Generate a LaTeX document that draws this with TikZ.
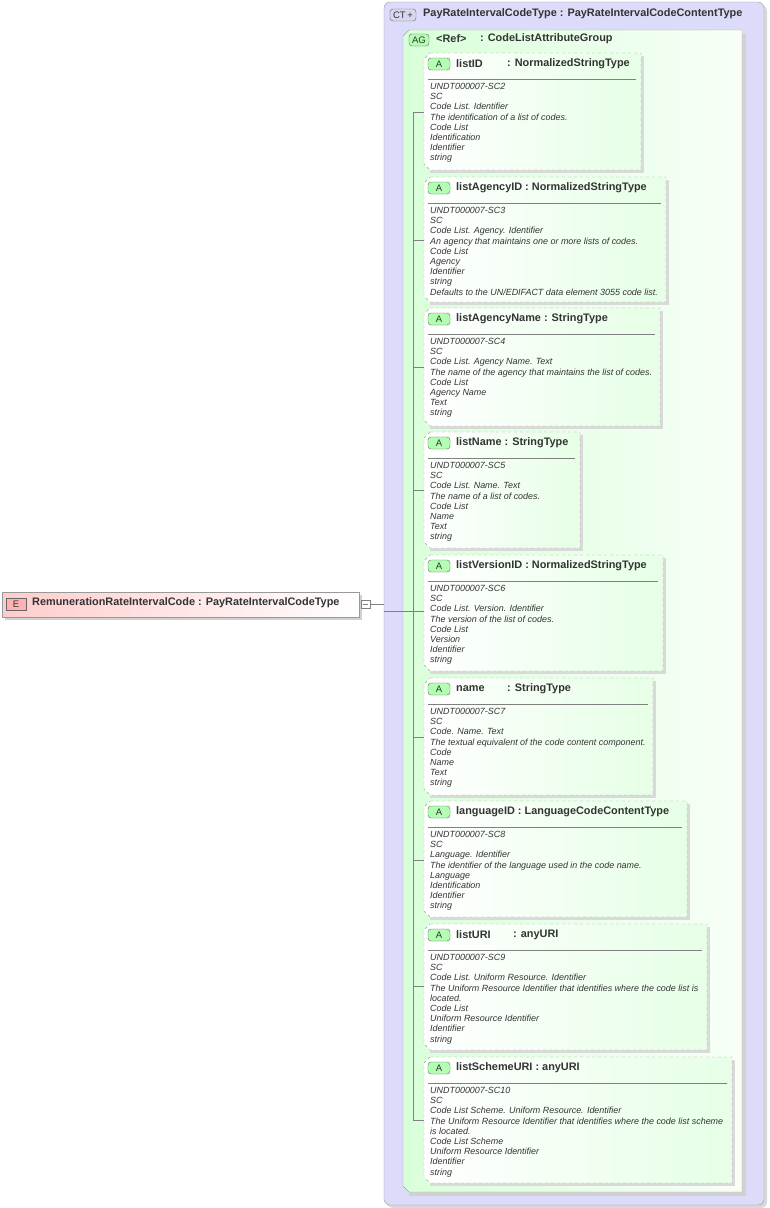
\documentclass[tikz,border=0pt]{standalone}
\usepackage{fontspec}
\setmainfont{Liberation Sans}
\begin{document}
\begin{tikzpicture}[x=1pt,y=-1pt,
  hdr/.style={font=\fontsize{10.9}{12}\selectfont\bfseries,text=black!80,inner sep=0,anchor=west},
  body/.style={font=\fontsize{8.95}{10.2}\selectfont\itshape,text=black!80,inner sep=0,anchor=north west,align=left},
  badge/.style={draw=black!60,rounded corners=3pt,inner sep=0,minimum height=12pt,font=\fontsize{9.5}{10}\selectfont,text=black!80},
  attrbox/.style={draw=black!35,dashed},
  shadowc/.style={fill=black!18,draw=none}]
\useasboundingbox (0,0) rectangle (769,1208);
% CT box
\fill[black!15,rounded corners=6pt] (387,5) rectangle (767,1208);
\draw[black!40,fill={rgb,255:red,220;green,220;blue,250},rounded corners=6pt] (384,2) rectangle (764,1205);
\node[badge,fill={rgb,255:red,215;green,215;blue,240},minimum width=26pt] (ctb) at (403,15) {CT\,+};
\node[hdr] (cth) at (423,14) {PayRateIntervalCodeType : PayRateIntervalCodeContentType};
% AG box
\fill[black!18] (409,34)--(746,34)--(746,1196)--(409,1196)--cycle;
\shade[left color=green!15,right color=green!3] (409,30)--(742,30)--(742,1192)--(409,1192)--(403,1186)--(403,36)--cycle;
\draw[black!35] (409,30)--(742,30)--(742,1192)--(409,1192)--(403,1186)--(403,36)--cycle;
\node[badge,fill=green!30,minimum width=20pt] (agb) at (419,40) {AG};
\node[hdr] (agr) at (436,39) {<Ref>};
\node[hdr] (agt) at (480,39) {: CodeListAttributeGroup};
% element
\fill[black!18] (5,595) rectangle (362,620);
\shade[left color=red!20,right color=white] (2,592) rectangle (359,617);
\draw[black!40] (2,592) rectangle (359,617);
\node[badge,fill=red!30,rounded corners=0pt,minimum width=20pt,minimum height=12pt] (eb) at (16,604) {E};
\node[hdr] (el) at (32,603) {RemunerationRateIntervalCode : PayRateIntervalCodeType};
\draw[black!50] (361,600) rectangle (370,608);
\draw[black!50] (363,604) -- (368,604);
\coordinate (c1) at (370,604);
\coordinate (c2) at (384,604);
\draw[black!50] (c1) -- (c2);
\coordinate (c3) at (384,611);
\coordinate (c4) at (413,611);
\draw[black!50] (c3) -- (c4);
\draw[black!50] (413,112) -- (413,1120);
\newcommand\attrbx[7]{%
  \fill[black!15] (430,#2+3)--(#3+3,#2+3)--(#3+3,#4+3)--(430,#4+3)--cycle;
  \shade[left color=white,right color=green!10] (430,#2)--(#3,#2)--(#3,#4)--(430,#4)--(424,#4-6)--(424,#2+6)--cycle;
  \draw[attrbox] (430,#2)--(#3,#2)--(#3,#4)--(430,#4)--(424,#4-6)--(424,#2+6)--cycle;
  \node[badge,fill=green!30,minimum width=22pt] (#1b) at (439,#2+11) {A};
  #5
  \draw[black!50] (428,#2+26) -- (#3-5,#2+26);
  \node[body] (#1t) at (430,#2+30) {#6};
  \draw[black!50] (413,#7) -- (424,#7);
}
\attrbx{a1}{53}{641}{170}{\node[hdr] (a1n) at (456,64) {listID}; \node[hdr] (a1y) at (507,64) {: NormalizedStringType};}
 {UNDT000007-SC2\\SC\\Code List. Identifier\\The identification of a list of codes.\\Code List\\Identification\\Identifier\\string}{112}
\attrbx{a2}{177}{666}{302}{\node[hdr] (a2n) at (456,188) {listAgencyID : NormalizedStringType};}
 {UNDT000007-SC3\\SC\\Code List. Agency. Identifier\\An agency that maintains one or more lists of codes.\\Code List\\Agency\\Identifier\\string\\Defaults to the UN/EDIFACT data element 3055 code list.}{240}
\attrbx{a3}{308}{660}{426}{\node[hdr] (a3n) at (456,319) {listAgencyName : StringType};}
 {UNDT000007-SC4\\SC\\Code List. Agency Name. Text\\The name of the agency that maintains the list of codes.\\Code List\\Agency Name\\Text\\string}{367}
\attrbx{a4}{432}{580}{548}{\node[hdr] (a4n) at (456,443) {listName : StringType};}
 {UNDT000007-SC5\\SC\\Code List. Name. Text\\The name of a list of codes.\\Code List\\Name\\Text\\string}{490}
\attrbx{a5}{555}{663}{671}{\node[hdr] (a5n) at (456,566) {listVersionID : NormalizedStringType};}
 {UNDT000007-SC6\\SC\\Code List. Version. Identifier\\The version of the list of codes.\\Code List\\Version\\Identifier\\string}{611}
\attrbx{a6}{678}{653}{795}{\node[hdr] (a6n) at (456,689) {name}; \node[hdr] (a6y) at (507,689) {: StringType};}
 {UNDT000007-SC7\\SC\\Code. Name. Text\\The textual equivalent of the code content component.\\Code\\Name\\Text\\string}{737}
\attrbx{a7}{801}{687}{917}{\node[hdr] (a7n) at (456,812) {languageID : LanguageCodeContentType};}
 {UNDT000007-SC8\\SC\\Language. Identifier\\The identifier of the language used in the code name.\\Language\\Identification\\Identifier\\string}{860}
\attrbx{a8}{924}{707}{1050}{\node[hdr] (a8n) at (456,935) {listURI}; \node[hdr] (a8y) at (513,935) {: anyURI};}
 {UNDT000007-SC9\\SC\\Code List. Uniform Resource. Identifier\\The Uniform Resource Identifier that identifies where the code list is\\located.\\Code List\\Uniform Resource Identifier\\Identifier\\string}{986}
\attrbx{a9}{1057}{732}{1183}{\node[hdr] (a9n) at (456,1068) {listSchemeURI : anyURI};}
 {UNDT000007-SC10\\SC\\Code List Scheme. Uniform Resource. Identifier\\The Uniform Resource Identifier that identifies where the code list scheme\\is located.\\Code List Scheme\\Uniform Resource Identifier\\Identifier\\string}{1120}
\end{tikzpicture}
\end{document}
